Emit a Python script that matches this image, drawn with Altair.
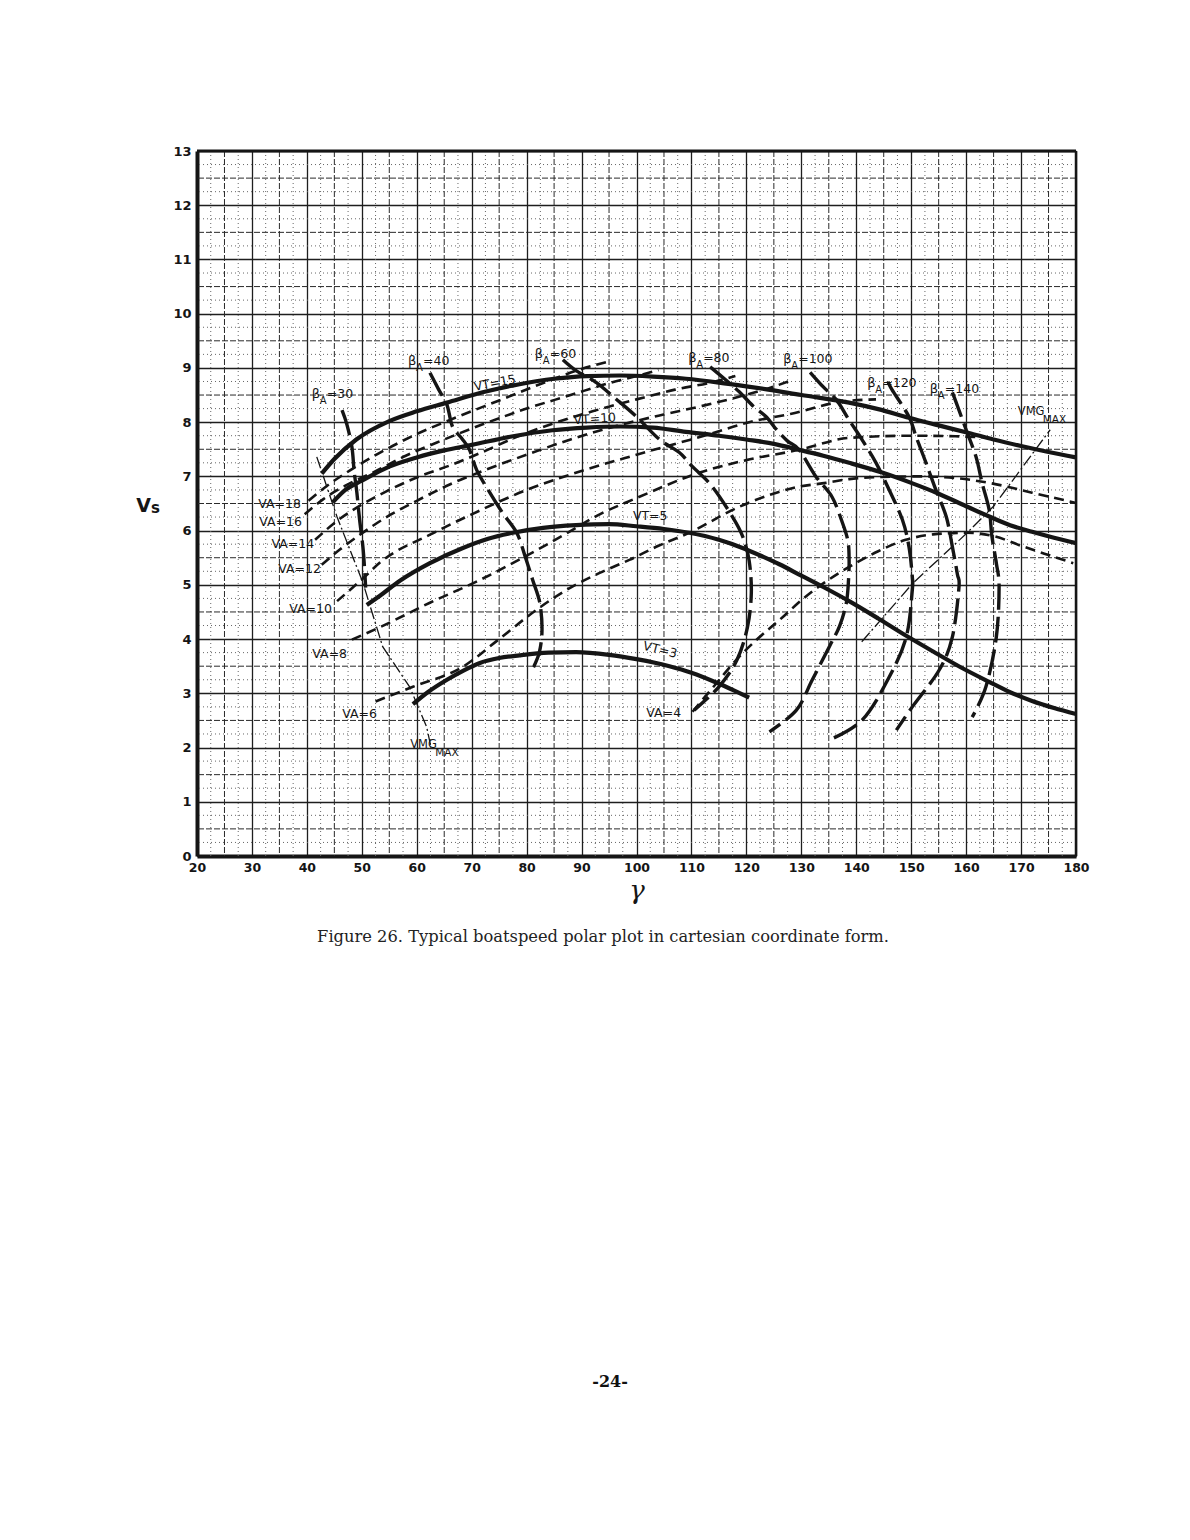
import altair as alt
import pandas as pd
import numpy as np

# ---------------- data (x = gamma deg, y = Vs) ----------------
VT15_X = [42.7, 45, 49, 55, 60, 65.5, 72, 78.7, 85, 91, 97, 103, 109, 115, 120, 124, 130, 138.7, 144, 149.6, 155, 160.5, 165, 170, 175, 180]
VT15_Y = [7.05, 7.32, 7.68, 8.02, 8.2, 8.36, 8.55, 8.7, 8.8, 8.85, 8.86, 8.84, 8.8, 8.73, 8.66, 8.6, 8.5, 8.36, 8.24, 8.08, 7.94, 7.8, 7.68, 7.56, 7.45, 7.35]

VT10_X = [44.7, 47, 50, 55, 60, 65, 70, 77, 84.7, 91, 97, 103, 109, 115, 120, 125, 129.6, 134, 138.7, 144.7, 150, 155, 160, 164.2, 168, 172, 176, 180]
VT10_Y = [6.52, 6.75, 6.92, 7.18, 7.35, 7.48, 7.58, 7.73, 7.85, 7.9, 7.92, 7.9, 7.82, 7.75, 7.68, 7.6, 7.49, 7.38, 7.25, 7.07, 6.88, 6.68, 6.45, 6.26, 6.1, 5.98, 5.87, 5.77]

VT5_X = [50.9, 53.3, 57, 62.4, 68.4, 73, 77.5, 83, 89, 95, 100, 105, 109.6, 115, 119.3, 123, 126, 130, 134, 138.7, 144, 149.1, 154, 159, 164.2, 168, 172, 176, 180]
VT5_Y = [4.63, 4.8, 5.08, 5.4, 5.68, 5.85, 5.96, 6.05, 6.1, 6.12, 6.08, 6.03, 5.96, 5.83, 5.68, 5.52, 5.38, 5.17, 4.96, 4.7, 4.38, 4.06, 3.77, 3.48, 3.21, 3.02, 2.86, 2.73, 2.62]

VT3_X = [59.3, 62, 65.5, 68.5, 71.5, 75, 78.7, 84, 89, 95, 100, 106, 110, 114.5, 118, 120.5]
VT3_Y = [2.8, 3.02, 3.25, 3.42, 3.56, 3.65, 3.7, 3.75, 3.76, 3.71, 3.63, 3.5, 3.38, 3.2, 3.04, 2.92]

VA18_X = [40.3, 44, 48, 53, 60, 67, 75, 84, 90, 95]
VA18_Y = [6.55, 6.85, 7.12, 7.42, 7.78, 8.08, 8.4, 8.76, 8.98, 9.12]
VA16_X = [39.6, 43, 47, 52, 58, 65, 72, 80, 88, 95, 100, 104]
VA16_Y = [6.3, 6.58, 6.83, 7.07, 7.38, 7.68, 7.96, 8.25, 8.5, 8.72, 8.85, 8.96]
VA14_X = [41.5, 45.5, 50, 55, 60, 66, 72, 78, 85, 92, 100, 107, 114, 118]
VA14_Y = [5.83, 6.18, 6.48, 6.75, 6.98, 7.2, 7.45, 7.72, 7.98, 8.2, 8.42, 8.6, 8.74, 8.85]
VA12_X = [42.7, 46, 50, 55, 60, 66, 72, 80, 88, 96, 104, 112, 120.5, 124.5, 128.4]
VA12_Y = [5.37, 5.65, 5.95, 6.28, 6.55, 6.85, 7.1, 7.4, 7.68, 7.92, 8.12, 8.3, 8.52, 8.64, 8.78]
VA10_X = [45.5, 50, 53.3, 62.9, 70, 80, 90, 100, 113, 120.5, 128, 137.5, 143.6]
VA10_Y = [4.7, 5.1, 5.41, 5.95, 6.3, 6.75, 7.1, 7.4, 7.77, 8.0, 8.15, 8.38, 8.42]
VA8_X = [48.2, 53.3, 62.4, 71.5, 79.3, 87.3, 93.3, 100, 111.5, 120, 129.6, 138.7, 150, 158, 163]
VA8_Y = [3.99, 4.22, 4.67, 5.09, 5.5, 5.95, 6.3, 6.6, 7.07, 7.3, 7.49, 7.71, 7.75, 7.74, 7.72]
VA6_X = [52.5, 59.3, 68.4, 75, 81.8, 88, 93.3, 98.7, 104, 109.6, 118.7, 124, 129.6, 134.5, 138.7, 144.7, 152, 158, 164.2, 172, 180]
VA6_Y = [2.85, 3.12, 3.49, 4.0, 4.54, 4.95, 5.22, 5.46, 5.72, 5.96, 6.44, 6.65, 6.81, 6.88, 6.95, 6.99, 7.0, 6.97, 6.88, 6.7, 6.51]
VA4_X = [110.2, 112, 114.6, 118, 122, 126, 131, 136.9, 138.7, 144, 149, 154, 160, 165, 170, 175, 179.5]
VA4_Y = [2.66, 2.88, 3.19, 3.6, 4.0, 4.35, 4.8, 5.22, 5.33, 5.62, 5.83, 5.93, 5.96, 5.9, 5.72, 5.55, 5.4]

BA30_X = [46.4, 47.3, 48.2, 48.6, 49.1, 49.6, 50.2, 50.5, 50.7]
BA30_Y = [8.22, 7.95, 7.54, 7.1, 6.7, 6.2, 5.7, 5.3, 4.95]
BA40_X = [62.4, 64, 65.5, 66.5, 68.2, 69.6, 70.9, 73, 75.6, 78.2, 79.8, 81.1, 82.4, 82.8, 82.3, 81]
BA40_Y = [8.91, 8.6, 8.32, 7.92, 7.7, 7.49, 7.12, 6.75, 6.33, 5.96, 5.5, 5.09, 4.67, 4.17, 3.75, 3.43]
BA60_X = [86.6, 89, 92.7, 96, 100, 104.2, 107.8, 110.2, 113.8, 117.5, 119.3, 120.5, 120.9, 120.2, 118.3, 115, 110.5]
BA60_Y = [9.15, 8.95, 8.73, 8.45, 8.1, 7.68, 7.44, 7.18, 6.81, 6.25, 5.9, 5.45, 4.85, 4.22, 3.62, 3.12, 2.69]
BA80_X = [113.4, 116, 118.7, 121.2, 123.6, 125.5, 127.5, 129.6, 132.7, 135.6, 137.5, 138.5, 138.7, 138.6, 138.2, 137, 135.1, 132, 129.1, 124.2]
BA80_Y = [9.02, 8.8, 8.56, 8.3, 8.1, 7.86, 7.65, 7.49, 6.99, 6.62, 6.14, 5.8, 5.46, 5.1, 4.67, 4.25, 3.86, 3.25, 2.69, 2.29]
BA100_X = [131.6, 134, 136.4, 138.7, 141.1, 143.6, 146, 148.4, 149.6, 150.2, 150.2, 149.1, 146, 141.1, 135.1]
BA100_Y = [8.92, 8.65, 8.41, 8.04, 7.67, 7.25, 6.75, 6.2, 5.7, 5.15, 4.9, 4.04, 3.3, 2.51, 2.14]
BA120_X = [145.8, 146.5, 149.6, 150.9, 152.7, 154.5, 156.4, 157.5, 158.4, 158.7, 157.5, 155.1, 150.2, 147.3]
BA120_Y = [8.75, 8.6, 8.1, 7.73, 7.25, 6.75, 6.25, 5.7, 5.2, 4.96, 4.04, 3.43, 2.75, 2.32]
BA140_X = [157.5, 158.2, 160, 161.8, 162.9, 164.2, 164.7, 165.5, 166, 165.5, 163.6, 161.1]
BA140_Y = [8.55, 8.36, 7.86, 7.36, 6.88, 6.38, 5.89, 5.4, 4.96, 4.04, 3.12, 2.56]

VMG_L_X = [41.8, 45.5, 50.2, 53.8, 58.7, 61.8, 62.5]
VMG_L_Y = [7.36, 6.25, 5.04, 3.86, 3.12, 2.38, 2.05]
VMG_R_X = [141.0, 150.3, 160.2, 165.0, 175.3]
VMG_R_Y = [3.95, 5.03, 5.96, 6.45, 7.86]

X_TICKS = list(range(20, 181, 10))
Y_TICKS = list(range(0, 14))

# labels
VA_LABELS = ["VA=18", "VA=16", "VA=14", "VA=12", "VA=10", "VA=8", "VA=6", "VA=4"]
VA_LAB_X = [39.1, 39.3, 41.5, 42.75, 44.75, 47.5, 52.95, 108.3]
VA_LAB_Y = [6.42, 6.09, 5.68, 5.22, 4.48, 3.65, 2.54, 2.56]

VT_LABELS = ["VT=15", "VT=10", "VT=5", "VT=3"]
VT_LAB_X = [74.2, 92.4, 102.5, 104.3]
VT_LAB_Y = [8.72, 8.06, 6.27, 3.8]
VT_LAB_ANGLE = [349, 356, 0, 14]

BA_VALUES = ["=30", "=40", "=60", "=80", "=100", "=120", "=140"]
BA_LAB_X = [40.9, 58.4, 81.5, 109.4, 126.7, 142.0, 153.4]
BA_LAB_Y = [8.45, 9.05, 9.18, 9.11, 9.09, 8.65, 8.54]

VMG_LAB_X = [169.4, 58.8]
VMG_LAB_Y = [8.13, 1.99]

CAPTION = "Figure 26.  Typical boatspeed polar plot in cartesian coordinate form."
PAGE_NO = "-24-"

# ---------------- build tables ----------------
def table(groups):
    rows = []
    for name, xs_, ys_ in groups:
        for i, (a, b) in enumerate(zip(xs_, ys_)):
            rows.append({"curve": name, "i": i, "x": a, "y": b})
    return pd.DataFrame(rows)

vt_df = table([("VT15", VT15_X, VT15_Y), ("VT10", VT10_X, VT10_Y),
               ("VT5", VT5_X, VT5_Y), ("VT3", VT3_X, VT3_Y)])
va_df = table([("VA18", VA18_X, VA18_Y), ("VA16", VA16_X, VA16_Y), ("VA14", VA14_X, VA14_Y),
               ("VA12", VA12_X, VA12_Y), ("VA10", VA10_X, VA10_Y), ("VA8", VA8_X, VA8_Y),
               ("VA6", VA6_X, VA6_Y), ("VA4", VA4_X, VA4_Y)])
ba_df = table([("B30", BA30_X, BA30_Y), ("B40", BA40_X, BA40_Y), ("B60", BA60_X, BA60_Y),
               ("B80", BA80_X, BA80_Y), ("B100", BA100_X, BA100_Y), ("B120", BA120_X, BA120_Y),
               ("B140", BA140_X, BA140_Y)])
vmg_df = table([("L", VMG_L_X, VMG_L_Y), ("R", VMG_R_X, VMG_R_Y)])

W, H = 879, 705
INK = "#151515"
xs = alt.Scale(domain=[20, 180], nice=False, zero=False)
ys = alt.Scale(domain=[0, 13], nice=False, zero=False)

AX_X = alt.Axis(values=X_TICKS, grid=True, gridColor="#1e1e1e", gridWidth=1.3, ticks=False,
                domain=True, domainColor=INK, domainWidth=4, labelFont="DejaVu Sans",
                labelFontWeight="bold", labelFontSize=12.5, labelColor=INK, labelPadding=5,
                title=None, labelFlush=False)
AX_Y = alt.Axis(values=Y_TICKS, grid=True, gridColor="#1e1e1e", gridWidth=1.3, ticks=False,
                domain=True, domainColor=INK, domainWidth=4, labelFont="DejaVu Sans",
                labelFontWeight="bold", labelFontSize=13, labelColor=INK, labelPadding=6,
                title=None, labelFlush=False)

def X(f="x"):
    return alt.X(f"{f}:Q", scale=xs, axis=AX_X)

def Y(f="y"):
    return alt.Y(f"{f}:Q", scale=ys, axis=AX_Y)

# grids (finer graph-paper lines)
quarter_x = pd.DataFrame({"x": [v for v in np.arange(20, 180.01, 2.5) if v % 5 != 0]})
quarter_y = pd.DataFrame({"y": [v for v in np.arange(0, 13.01, 0.25) if v % 0.5 != 0]})
half_x = pd.DataFrame({"x": list(np.arange(25, 180, 10))})
half_y = pd.DataFrame({"y": list(np.arange(0.5, 13, 1.0))})

g1 = alt.Chart(quarter_x).mark_rule(color="#666", strokeWidth=1, strokeDash=[1, 3]).encode(x=X())
g2 = alt.Chart(quarter_y).mark_rule(color="#666", strokeWidth=1, strokeDash=[1, 3]).encode(y=Y())
g3 = alt.Chart(half_x).mark_rule(color="#2a2a2a", strokeWidth=1, strokeDash=[6, 2]).encode(x=X())
g4 = alt.Chart(half_y).mark_rule(color="#2a2a2a", strokeWidth=1, strokeDash=[6, 2]).encode(y=Y())

# frame (top & right thinner, left & bottom drawn by axis domains)
frame_top = alt.Chart(pd.DataFrame({"y": [13]})).mark_rule(color=INK, strokeWidth=3).encode(y=Y())
frame_right = alt.Chart(pd.DataFrame({"x": [180]})).mark_rule(color=INK, strokeWidth=2.5).encode(x=X())

order = alt.Order("i:Q")
vmg = alt.Chart(vmg_df).mark_line(color=INK, strokeWidth=1.3, strokeDash=[12, 3, 2, 3]).encode(
    x=X(), y=Y(), detail="curve:N", order=order)
va = alt.Chart(va_df).mark_line(color=INK, strokeWidth=2.6, strokeDash=[10, 6], interpolate="monotone").encode(
    x=X(), y=Y(), detail="curve:N", order=order)
ba = alt.Chart(ba_df).mark_line(color=INK, strokeWidth=3.4, strokeDash=[26, 7], interpolate="cardinal").encode(
    x=X(), y=Y(), detail="curve:N", order=order)
vt = alt.Chart(vt_df).mark_line(color=INK, strokeWidth=4.2, interpolate="monotone").encode(
    x=X(), y=Y(), detail="curve:N", order=order)

FONT = "DejaVu Sans"
va_lab = alt.Chart(pd.DataFrame({"t": VA_LABELS, "x": VA_LAB_X, "y": VA_LAB_Y})).mark_text(
    font=FONT, fontSize=12.5, align="right", baseline="alphabetic", color=INK, dx=-1).encode(
    x=X(), y=Y(), text="t:N")

vt_layers = []
for t, a, b, ang in zip(VT_LABELS, VT_LAB_X, VT_LAB_Y, VT_LAB_ANGLE):
    vt_layers.append(alt.Chart(pd.DataFrame({"t": [t], "x": [a], "y": [b]})).mark_text(
        font=FONT, fontSize=12.5, align="center", baseline="middle", color=INK, angle=ang).encode(
        x=X(), y=Y(), text="t:N"))

ba_tab = pd.DataFrame({"v": BA_VALUES, "x": BA_LAB_X, "y": BA_LAB_Y,
                       "b": ["β"] * len(BA_VALUES), "s": ["A"] * len(BA_VALUES)})
ba_b = alt.Chart(ba_tab).mark_text(font=FONT, fontSize=13, align="left", baseline="alphabetic", color=INK).encode(
    x=X(), y=Y(), text="b:N")
ba_s = alt.Chart(ba_tab).mark_text(font=FONT, fontSize=10, align="left", baseline="alphabetic", color=INK,
                                   dx=8, dy=6).encode(x=X(), y=Y(), text="s:N")
ba_v = alt.Chart(ba_tab).mark_text(font=FONT, fontSize=12.5, align="left", baseline="alphabetic", color=INK,
                                   dx=15).encode(x=X(), y=Y(), text="v:N")

vmg_tab = pd.DataFrame({"x": VMG_LAB_X, "y": VMG_LAB_Y, "a": ["VMG", "VMG"], "b": ["MAX", "MAX"]})
vmg_a = alt.Chart(vmg_tab).mark_text(font=FONT, fontSize=11.5, align="left", baseline="alphabetic", color=INK
                                     ).encode(x=X(), y=Y(), text="a:N")
vmg_b = alt.Chart(vmg_tab).mark_text(font=FONT, fontSize=10.5, align="left", baseline="alphabetic", color=INK,
                                     dx=25, dy=8).encode(x=X(), y=Y(), text="b:N")

one = pd.DataFrame({"k": [0]})
t_gamma = alt.Chart(one).mark_text(text="γ", font="DejaVu Serif", fontSize=26, fontStyle="italic",
                                   color=INK, baseline="middle", align="center").encode(
    x=alt.value(440), y=alt.value(740))
t_v = alt.Chart(one).mark_text(text="V", font=FONT, fontSize=19, fontWeight="bold", color=INK,
                               baseline="alphabetic", align="right").encode(x=alt.value(-46), y=alt.value(361))
t_s = alt.Chart(one).mark_text(text="s", font=FONT, fontSize=15, fontWeight="bold", color=INK,
                               baseline="alphabetic", align="left").encode(x=alt.value(-46), y=alt.value(362))
t_cap = alt.Chart(one).mark_text(text=CAPTION, font="DejaVu Serif", fontSize=16.3, color="#222",
                                 baseline="middle", align="center").encode(x=alt.value(406), y=alt.value(786))
t_page = alt.Chart(one).mark_text(text=PAGE_NO, font="DejaVu Serif", fontSize=16, fontWeight="bold", color="#111",
                                  baseline="middle", align="center").encode(x=alt.value(413), y=alt.value(1231))

chart = alt.layer(g1, g2, g3, g4, frame_top, frame_right, vmg, va, ba, vt, va_lab, *vt_layers,
                  ba_b, ba_s, ba_v, vmg_a, vmg_b, t_gamma, t_v, t_s, t_cap, t_page).properties(
    width=W, height=H,
    autosize=alt.AutoSizeParams(type="none"),
    padding={"left": 189, "top": 143, "right": 100, "bottom": 560},
).configure_view(stroke=None).configure(background="white")

chart.save("out.html", embed_options={"renderer": "svg", "actions": False})
